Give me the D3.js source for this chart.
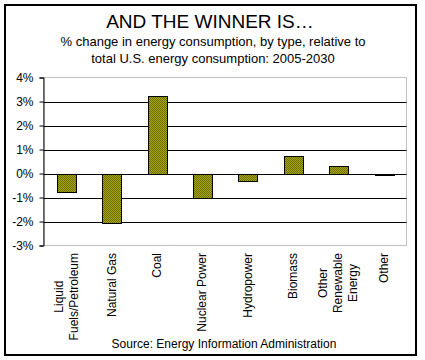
<!DOCTYPE html>
<html>
<head>
<meta charset="utf-8">
<script src="https://cdn.jsdelivr.net/npm/d3@7"></script>
<style>
  html, body { margin: 0; padding: 0; background: #fff; }
  svg { display: block; }
  text { font-family: "Liberation Sans", Arial, sans-serif; fill: #000; }
</style>
</head>
<body>
<svg id="chart" width="425" height="360"></svg>
<script>
// ---- data ----
const categories = ["Liquid Fuels/Petroleum", "Natural Gas", "Coal", "Nuclear Power", "Hydropower", "Biomass", "Other Renewable Energy", "Other"];
const labelLines = [["Liquid", "Fuels/Petroleum"], ["Natural Gas"], ["Coal"], ["Nuclear Power"], ["Hydropower"], ["Biomass"], ["Other", "Renewable", "Energy"], ["Other"]];
const values = [-0.75, -2.08, 3.22, -1.0, -0.33, 0.71, 0.33, -0.08]; // percent
const yTicks = [-3, -2, -1, 0, 1, 2, 3, 4];
const titleText = "AND THE WINNER IS…";
const subtitleLines = ["% change in energy consumption, by type, relative to", "total U.S. energy consumption: 2005-2030"];
const sourceText = "Source: Energy Information Administration";

// ---- layout ----
const svg = d3.select("#chart");
const plot = { left: 43.5, right: 406.5, top: 77.5, bottom: 245.5 };

// checkered olive fill
const defs = svg.append("defs");
const pat = defs.append("pattern").attr("id", "olive").attr("width", 2).attr("height", 2)
  .attr("patternUnits", "userSpaceOnUse");
pat.append("rect").attr("width", 2).attr("height", 2).attr("fill", "#a6a600");
pat.append("rect").attr("width", 1).attr("height", 1).attr("fill", "#6e6e00");
pat.append("rect").attr("x", 1).attr("y", 1).attr("width", 1).attr("height", 1).attr("fill", "#6e6e00");

// outer frame
svg.append("rect").attr("x", 5).attr("y", 5).attr("width", 411).attr("height", 350)
  .attr("fill", "#fff").attr("stroke", "#000").attr("stroke-width", 2);

// titles
svg.append("text").attr("x", 210).attr("y", 27.5).attr("text-anchor", "middle")
  .style("font-size", "19px").text(titleText);
svg.selectAll("text.sub").data(subtitleLines).join("text").attr("class", "sub")
  .attr("x", 213).attr("y", (d, i) => 46 + i * 16.5).attr("text-anchor", "middle")
  .style("font-size", "13px").text(d => d);

const x = d3.scaleBand().domain(categories).range([plot.left, plot.right])
  .paddingInner(0.59).paddingOuter(0.295);
const y = d3.scaleLinear().domain([-3, 4]).range([plot.bottom, plot.top]);

// plot border (dotted gray)
svg.append("rect").attr("x", plot.left).attr("y", plot.top)
  .attr("width", plot.right - plot.left).attr("height", plot.bottom - plot.top)
  .attr("fill", "none").attr("stroke", "#808080").attr("stroke-dasharray", "1,1");

// gridlines
svg.append("g").selectAll("line").data(yTicks.filter(t => t > -3 && t < 4)).join("line")
  .attr("x1", plot.left).attr("x2", plot.right)
  .attr("y1", d => Math.round(y(d)) + 0.5).attr("y2", d => Math.round(y(d)) + 0.5)
  .attr("stroke", "#000").attr("stroke-width", 1);

// bars
svg.append("g").selectAll("rect").data(values).join("rect")
  .attr("x", (d, i) => Math.round(x(categories[i])) + 0.5)
  .attr("width", Math.round(x.bandwidth()))
  .attr("y", d => Math.round(y(Math.max(0, d))) + 0.5)
  .attr("height", d => Math.abs(Math.round(y(d)) - Math.round(y(0))))
  .attr("fill", "url(#olive)").attr("stroke", "#000").attr("stroke-width", 1);

// y axis
const yAxis = d3.axisLeft(y).tickValues(yTicks).tickSize(4).tickPadding(6)
  .tickFormat(d => d + "%");
const gy = svg.append("g").attr("transform", `translate(${plot.left},0)`).call(yAxis);
gy.selectAll("text").style("font-size", "12px").style("font-family", "Liberation Sans, Arial, sans-serif");
gy.selectAll("line").attr("stroke", "#000");
gy.select(".domain").attr("stroke", "#000");

// category labels (rotated)
const lblTop = 253;
const lineGap = 15;
const lg = svg.append("g");
categories.forEach((c, i) => {
  const cx = x(c) + x.bandwidth() / 2;
  const lines = labelLines[i];
  const g = lg.append("g").attr("transform", `translate(${cx},${lblTop}) rotate(-90)`);
  const texts = g.selectAll("text").data(lines).join("text")
    .attr("y", (d, j) => (j - (lines.length - 1) / 2) * lineGap)
    .attr("dominant-baseline", "central")
    .attr("text-anchor", "middle")
    .style("font-size", "12px")
    .text(d => d);
  let maxW = 0;
  texts.each(function () { maxW = Math.max(maxW, this.getComputedTextLength()); });
  texts.attr("x", -maxW / 2);
});

// source
svg.append("text").attr("x", 224).attr("y", 347.5).attr("text-anchor", "middle")
  .style("font-size", "12px").text(sourceText);
</script>
</body>
</html>
